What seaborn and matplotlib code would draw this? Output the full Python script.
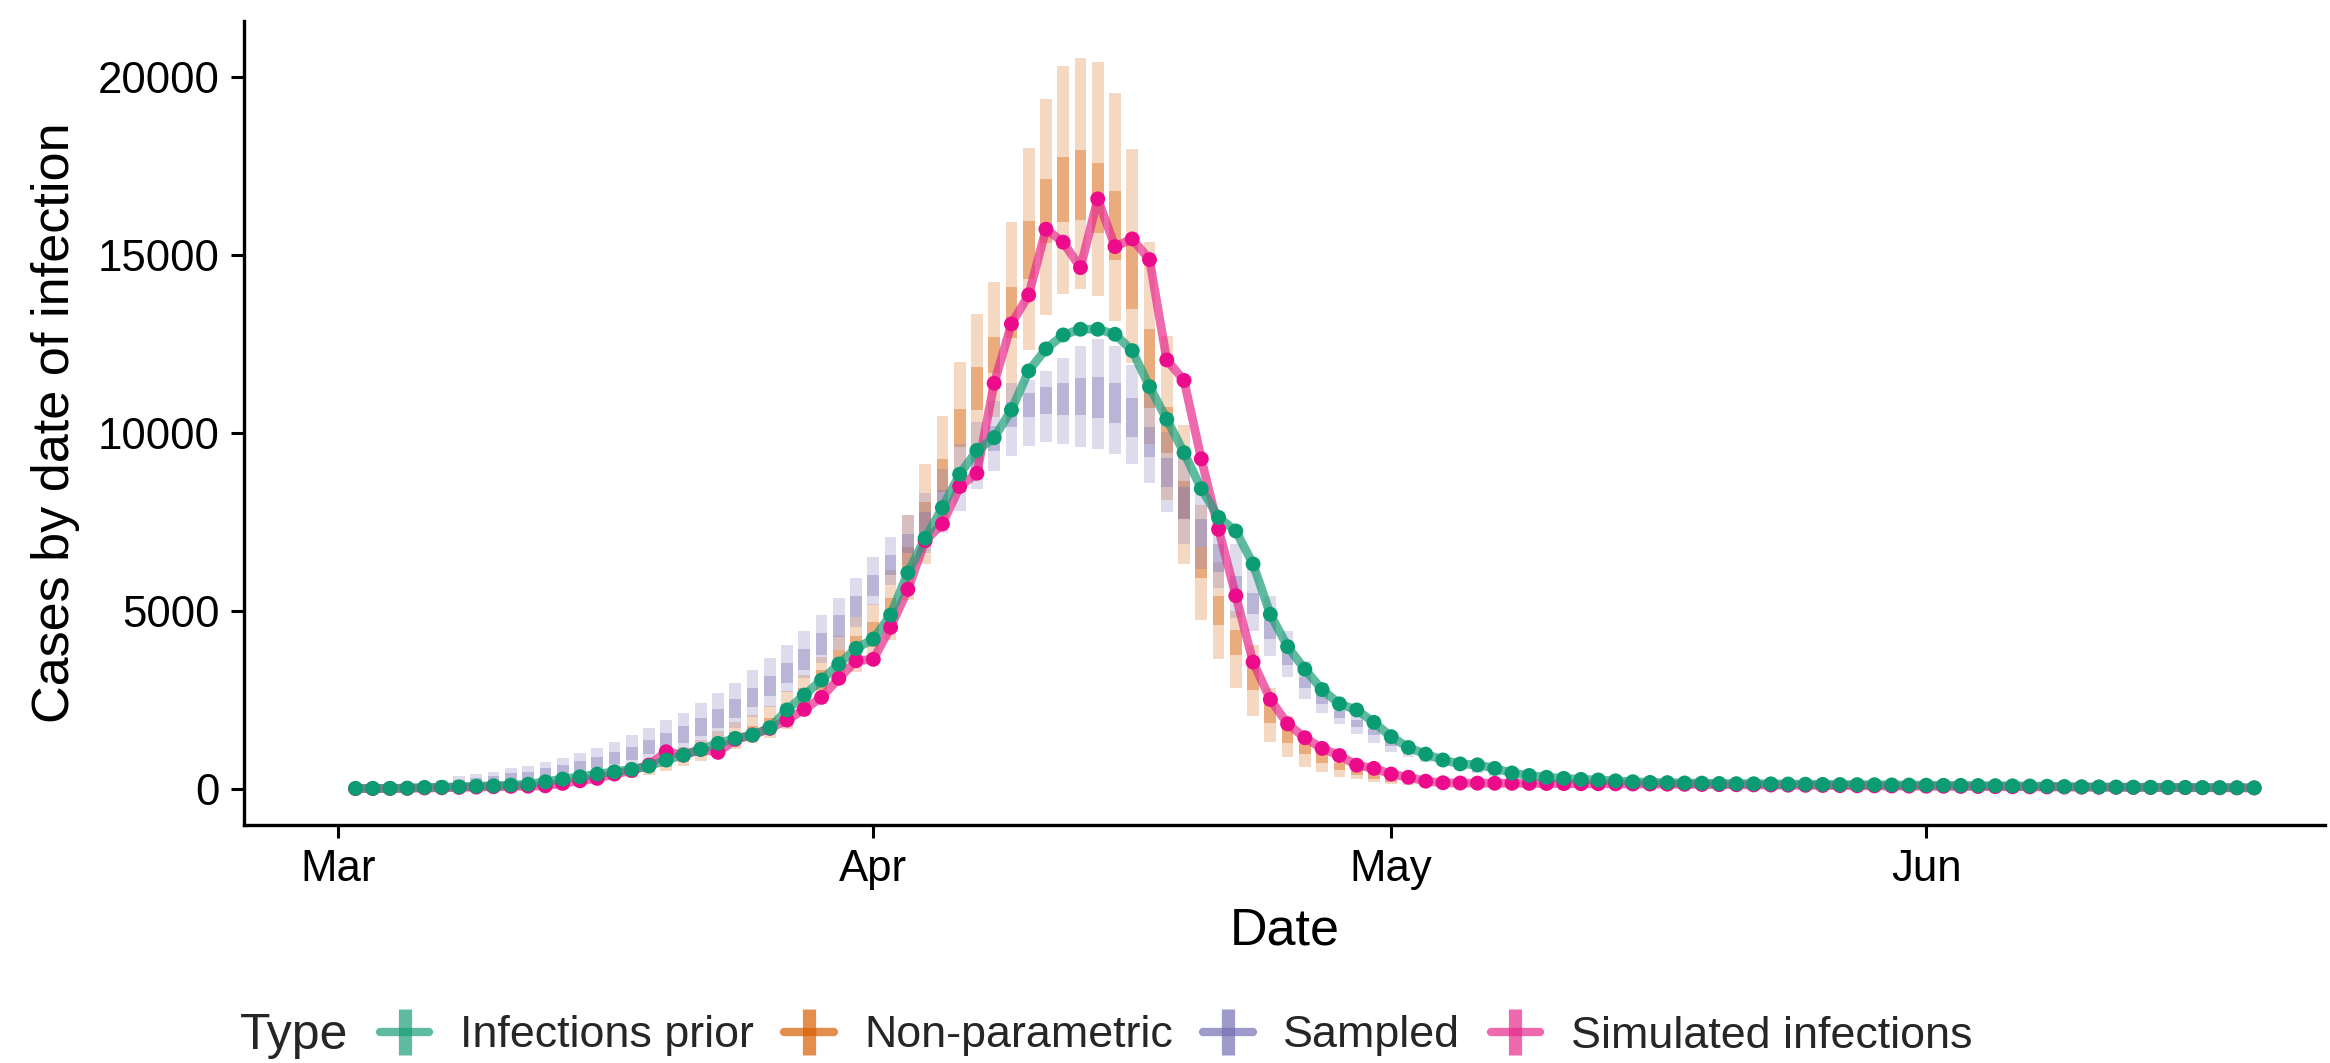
import numpy as np
import pandas as pd
import matplotlib
matplotlib.use("Agg")
import matplotlib.pyplot as plt
import matplotlib.dates as mdates
from matplotlib.lines import Line2D
import seaborn as sns

# ---------------- data (Mar 2 .. Jun 20 for lines / non-parametric, Mar 1 .. Jun 20 for sampled)
infections_prior = [
    28, 28, 30, 35, 56, 60, 73, 90, 100, 121,
    145, 213, 289, 354, 430, 494, 562, 654, 823, 963,
    1123, 1292, 1432, 1525, 1730, 2230, 2648, 3069, 3518, 3959,
    4220, 4894, 6082, 7048, 7907, 8845, 9515, 9874, 10651, 11746,
    12364, 12757, 12917, 12917, 12776, 12316, 11305, 10390, 9450, 8441,
    7635, 7253, 6327, 4914, 4007, 3370, 2800, 2400, 2230, 1880,
    1480, 1175, 990, 825, 715, 690, 590, 460, 390, 340,
    310, 280, 265, 240, 215, 195, 190, 180, 175, 165,
    160, 158, 155, 150, 145, 140, 137, 133, 130, 125,
    122, 118, 115, 112, 108, 104, 100, 95, 88, 80,
    73, 70, 66, 63, 60, 58, 56, 52, 50, 48, 45]

simulated_infections = [
    20, 22, 25, 28, 40, 45, 55, 65, 75, 85,
    90, 100, 168, 241, 309, 430, 530, 682, 1056, 963,
    1123, 1039, 1404, 1525, 1713, 1946, 2246, 2583, 3117, 3611,
    3650, 4549, 5616, 6981, 7450, 8500, 8873, 11400, 13066, 13880,
    15725, 15360, 14647, 16576, 15237, 15452, 14872, 12055, 11480, 9278,
    7301, 5436, 3574, 2524, 1839, 1450, 1150, 950, 680, 590,
    430, 340, 230, 185, 178, 175, 172, 170, 168, 165,
    162, 160, 158, 155, 152, 150, 146, 142, 138, 134,
    130, 126, 122, 118, 114, 110, 106, 102, 98, 95,
    92, 89, 86, 83, 80, 77, 74, 71, 68, 65,
    62, 59, 56, 54, 52, 50, 48, 46, 44, 42, 40]

nonpar_lo90 = [
    10, 10, 12, 14, 20, 24, 30, 35, 40, 50,
    60, 80, 110, 150, 190, 250, 320, 400, 520, 650,
    800, 950, 1120, 1300, 1450, 1700, 2050, 2450, 3000, 3300,
    3600, 4192, 5316, 6327, 7374, 8357, 9200, 10463, 10839, 12336,
    13330, 13920, 14040, 13860, 13158, 11970, 9700, 8124, 6340, 4762,
    3653, 2847, 2061, 1337, 913, 629, 477, 348, 279, 200,
    145, 110, 85, 65, 50, 40, 35, 30, 26, 23,
    21, 20, 19, 18, 18, 17, 17, 16, 16, 15,
    15, 14, 14, 14, 13, 13, 13, 12, 12, 12,
    11, 11, 11, 11, 10, 10, 10, 10, 10, 9,
    9, 9, 9, 9, 9, 8, 8, 8, 8, 8, 8]
nonpar_lo50 = [
    15, 15, 18, 20, 28, 34, 42, 50, 58, 70,
    85, 110, 150, 200, 250, 320, 400, 490, 620, 780,
    950, 1120, 1300, 1480, 1650, 1950, 2350, 2800, 3350, 3700,
    4000, 4802, 6206, 7141, 8357, 9621, 10650, 11681, 12664, 14321,
    15330, 15938, 15986, 15629, 14863, 13478, 10698, 9450, 7600, 5922,
    4611, 3774, 2797, 1859, 1314, 983, 730, 530, 400, 300,
    220, 170, 130, 100, 80, 65, 55, 48, 42, 38,
    35, 34, 33, 32, 31, 30, 29, 28, 28, 27,
    26, 26, 25, 25, 24, 24, 23, 23, 22, 22,
    21, 21, 20, 20, 19, 19, 19, 18, 18, 18,
    17, 17, 17, 16, 16, 16, 15, 15, 15, 14, 14]
nonpar_hi50 = [
    25, 25, 28, 32, 42, 50, 62, 75, 85, 100,
    120, 160, 210, 270, 330, 420, 520, 630, 790, 980,
    1180, 1380, 1600, 1780, 2000, 2400, 2850, 3350, 3900, 4300,
    4700, 5363, 6812, 8076, 9266, 10679, 11867, 12710, 14114, 15966,
    17129, 17764, 17952, 17578, 16809, 15471, 12935, 10744, 8660, 6798,
    5417, 4479, 3400, 2395, 1738, 1286, 983, 730, 530, 420,
    320, 250, 190, 150, 120, 100, 85, 75, 66, 60,
    55, 53, 51, 50, 48, 47, 46, 45, 44, 43,
    42, 41, 40, 39, 38, 38, 37, 36, 36, 35,
    34, 34, 33, 33, 32, 31, 31, 30, 30, 29,
    29, 28, 28, 27, 27, 26, 26, 25, 25, 24, 24]
nonpar_hi90 = [
    35, 35, 40, 45, 58, 68, 85, 100, 115, 135,
    160, 210, 270, 340, 420, 520, 640, 760, 940, 1180,
    1400, 1640, 1880, 2100, 2350, 2750, 3210, 3724, 4300, 4850,
    5200, 6158, 7702, 9126, 10491, 12008, 13346, 14237, 15938, 18000,
    19375, 20310, 20526, 20431, 19561, 17979, 15377, 12729, 10220, 7989,
    6375, 5015, 4057, 2847, 2061, 1536, 1134, 851, 629, 550,
    430, 340, 260, 210, 170, 140, 120, 105, 95, 86,
    80, 78, 75, 73, 71, 69, 67, 66, 64, 63,
    61, 60, 59, 57, 56, 55, 54, 53, 52, 51,
    50, 49, 48, 47, 46, 45, 45, 44, 43, 42,
    42, 41, 40, 40, 39, 38, 38, 37, 37, 36, 36]

sampled_lo90 = [
    30, 20, 25, 35, 45, 55, 70, 90, 110, 140,
    170, 200, 230, 250, 261, 330, 420, 636, 700, 917,
    1050, 1245, 1451, 1713, 2040, 2320, 2741, 3120, 3540, 3911,
    4566, 5175, 5737, 6300, 6627, 7200, 7823, 8432, 8938, 9368,
    9649, 9761, 9696, 9621, 9547, 9415, 9134, 8593, 7778, 6900,
    6200, 5650, 4800, 4460, 3754, 3150, 2544, 2142, 1839, 1556,
    1314, 1063, 913, 780, 650, 540, 450, 380, 320, 270,
    230, 200, 180,
    165, 155, 148, 140, 135, 130, 125, 120, 116, 112,
    108, 104, 100, 97, 94, 91, 88, 85, 82, 79,
    76, 73, 70, 68, 66, 64, 62, 60, 58, 56,
    54, 52, 50, 48, 46, 44, 42, 40, 38]
sampled_lo50 = [
    35, 30, 40, 50, 65, 80, 110, 140, 170, 210,
    250, 290, 340, 410, 494, 590, 700, 823, 992, 1151,
    1310, 1497, 1713, 1993, 2320, 2619, 2977, 3355, 3771, 4268,
    4847, 5428, 6018, 6627, 7188, 7750, 8357, 8900, 9500, 10182,
    10463, 10530, 10510, 10510, 10418, 10277, 9901, 9340, 8498, 7600,
    6800, 6100, 5300, 4914, 4209, 3501, 2844, 2395, 1991, 1738,
    1540, 1217, 1000, 850, 720, 600, 500, 420, 355, 300,
    255, 220, 195,
    178, 168, 160, 152, 146, 140, 135, 130, 126, 122,
    118, 114, 110, 106, 103, 100, 97, 94, 91, 88,
    85, 82, 79, 76, 74, 72, 70, 68, 66, 64,
    62, 60, 58, 56, 54, 52, 50, 48, 46]
sampled_hi50 = [
    45, 50, 65, 85, 110, 140, 200, 260, 320, 380,
    450, 500, 590, 682, 795, 916, 1056, 1198, 1385, 1572,
    1778, 1993, 2255, 2526, 2834, 3181, 3537, 3935, 4380, 4886,
    5428, 6010, 6588, 7169, 7800, 8400, 9000, 9600, 10200, 10884,
    11137, 11305, 11418, 11541, 11586, 11400, 10979, 10182, 9300, 8500,
    7600, 6900, 6000, 5518, 4762, 3856, 3153, 2645, 2193, 1950,
    1695, 1350, 1150, 960, 820, 690, 580, 490, 415, 350,
    300, 260, 230,
    210, 198, 188, 179, 171, 164, 158, 152, 147, 142,
    137, 133, 129, 125, 121, 117, 113, 110, 107, 104,
    101, 98, 95, 92, 89, 86, 84, 82, 80, 78,
    76, 74, 72, 70, 68, 66, 64, 62, 60]
sampled_hi90 = [
    50, 75, 100, 130, 170, 210, 261, 373, 430, 494,
    590, 663, 775, 870, 1028, 1168, 1337, 1525, 1713, 1946,
    2151, 2415, 2696, 2993, 3350, 3678, 4052, 4454, 4886, 5380,
    5942, 6515, 7076, 7702, 8329, 9000, 9700, 10300, 10900, 11400,
    11493, 11746, 12102, 12448, 12636, 12448, 11914, 11120, 10042, 9300,
    8300, 7225, 6900, 6475, 5417, 4460, 3602, 2998, 2493, 2193,
    1839, 1470, 1286, 1080, 920, 780, 660, 560, 480, 410,
    350, 300, 265,
    240, 226, 214, 204, 195, 187, 180, 173, 167, 161,
    156, 151, 146, 141, 137, 133, 129, 125, 121, 117,
    114, 111, 108, 105, 102, 99, 96, 94, 92, 90,
    88, 86, 84, 82, 80, 78, 76, 74, 72]

type_names = ["Infections prior", "Non-parametric", "Sampled", "Simulated infections"]
palette = {"Infections prior": "#1B9E77", "Non-parametric": "#D95F02",
           "Sampled": "#7570B3", "Simulated infections": "#E7298A"}
point_palette = {"Infections prior": "#0C9C74", "Simulated infections": "#EC0B8B"}

# ---------------- figure
sns.set_theme(style="ticks")
plt.rcParams['font.family'] = ['Liberation Sans', 'DejaVu Sans']

dates = pd.date_range("2020-03-02", periods=len(infections_prior))
sdates = pd.date_range("2020-03-01", periods=len(sampled_lo90))
x = mdates.date2num(dates)
xs = mdates.date2num(sdates)

W, H = 2330, 1063
fig = plt.figure(figsize=(W / 100, H / 100), dpi=100)
ax = fig.add_axes([244 / W, 1 - 825 / H, (2325 - 244) / W, (825 - 21) / H])

bw = 0.68
ranges = [
    (x, nonpar_lo90, nonpar_lo50, nonpar_hi50, nonpar_hi90, palette["Non-parametric"]),
    (xs, sampled_lo90, sampled_lo50, sampled_hi50, sampled_hi90, palette["Sampled"]),
]
for xx, lo90, lo50, hi50, hi90, col in ranges:
    lo90, lo50, hi50, hi90 = map(np.asarray, (lo90, lo50, hi50, hi90))
    ax.bar(xx, hi90 - lo90, bottom=lo90, width=bw, color=col, alpha=0.24, linewidth=0, zorder=1)
    ax.bar(xx, hi50 - lo50, bottom=lo50, width=bw, color=col, alpha=0.36, linewidth=0, zorder=1)

lines_df = pd.concat([
    pd.DataFrame({"date": x, "value": simulated_infections, "Type": "Simulated infections"}),
    pd.DataFrame({"date": x, "value": infections_prior, "Type": "Infections prior"}),
], ignore_index=True)
order = ["Simulated infections", "Infections prior"]

sns.lineplot(data=lines_df, x="date", y="value", hue="Type", hue_order=order,
             palette=palette, linewidth=6.3, alpha=0.7, legend=False, ax=ax, zorder=2)
sns.scatterplot(data=lines_df, x="date", y="value", hue="Type", hue_order=order,
                palette=point_palette, s=115, linewidth=0, legend=False, ax=ax, zorder=3)

x0 = mdates.date2num(pd.Timestamp("2020-03-01"))
ax.set_xlim(x0 - 5.46, x0 + 115.1)
ax.set_ylim(-1000, 21570)
ax.xaxis.set_major_locator(mdates.MonthLocator())
ax.xaxis.set_major_formatter(mdates.DateFormatter('%b'))
ax.set_yticks([0, 5000, 10000, 15000, 20000])

sns.despine(ax=ax)
for s in ("left", "bottom"):
    ax.spines[s].set_linewidth(2.4)
    ax.spines[s].set_color("black")
ax.tick_params(axis="both", labelsize=31.5, length=9.5, width=2.2, colors="black", pad=8)
ax.set_xlabel("Date", fontsize=37.5, labelpad=12, color="black")
ax.set_ylabel("Cases by date of infection", fontsize=37.5, labelpad=13, color="black")
ax.grid(False)

handles = [Line2D([0], [0], color=palette[t], lw=6, alpha=0.7, marker='|',
                  markersize=33, markeredgewidth=9.5) for t in type_names]
leg_y = 1 - 1036 / H
fig.text(240 / W, leg_y, "Type", fontsize=36, va="center", ha="left")
fig.legend(handles, type_names, loc="center left", bbox_to_anchor=(380 / W, leg_y),
           ncol=4, frameon=False, fontsize=32.3, handlelength=1.1, handletextpad=0.68,
           columnspacing=0.68, borderaxespad=0, borderpad=0)

fig.savefig("out.png", dpi=100)
